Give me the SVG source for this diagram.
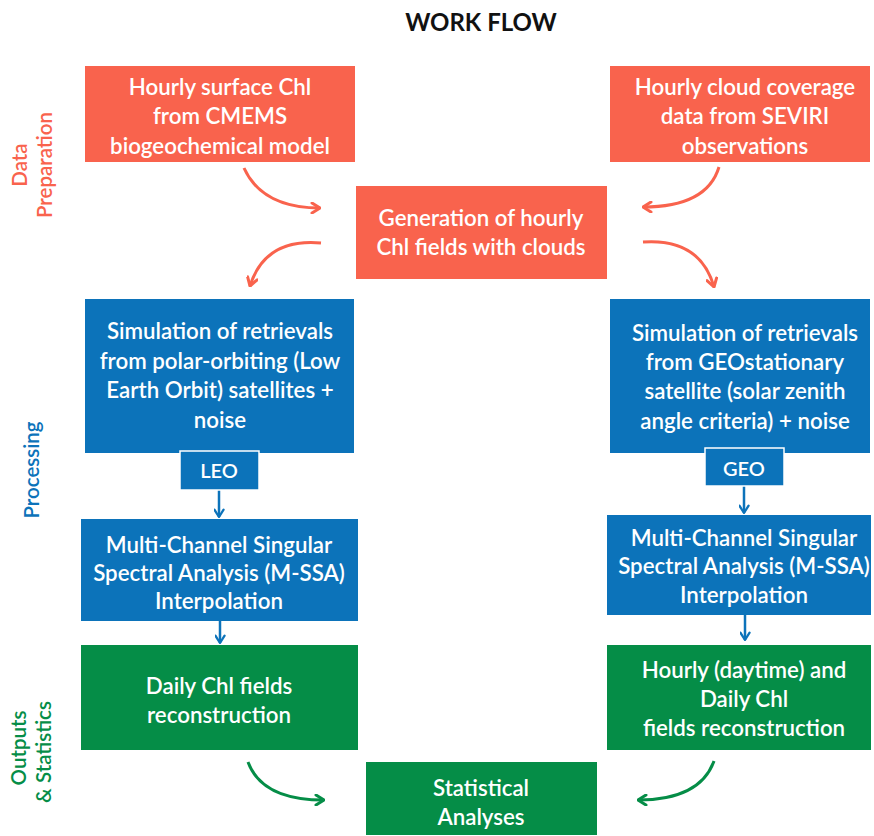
<svg xmlns="http://www.w3.org/2000/svg" width="874" height="836" viewBox="0 0 874 836">
<style>
text{font-family:Lato,"Open Sans","Liberation Sans",sans-serif;}
.t{fill:#fff;font-size:22.3px;font-weight:600;text-anchor:middle;}
.o{fill:#F9634D;}
.b{fill:#0C73BA;}
.g{fill:#058D47;}
.side{font-size:20.5px;font-weight:600;text-anchor:middle;}
.ao{fill:none;stroke:#F9634D;stroke-width:3;}
.ag{fill:none;stroke:#058D47;stroke-width:3;}
.ab{fill:none;stroke:#0C73BA;stroke-width:2.5;}
</style>
<defs>
<marker id="mo" viewBox="0 0 12 12" refX="11" refY="6" markerWidth="12" markerHeight="12" markerUnits="userSpaceOnUse" orient="auto"><path d="M3,1 L11,6 L3,11" fill="none" stroke="#F9634D" stroke-width="3" stroke-linecap="round" stroke-linejoin="round"/></marker>
<marker id="mg" viewBox="0 0 12 12" refX="11" refY="6" markerWidth="12" markerHeight="12" markerUnits="userSpaceOnUse" orient="auto"><path d="M3,1 L11,6 L3,11" fill="none" stroke="#058D47" stroke-width="3" stroke-linecap="round" stroke-linejoin="round"/></marker>
<marker id="mb" viewBox="0 0 12 12" refX="11" refY="6" markerWidth="11" markerHeight="11" markerUnits="userSpaceOnUse" orient="auto"><path d="M3,1 L11,6 L3,11" fill="none" stroke="#0C73BA" stroke-width="2.5" stroke-linecap="round" stroke-linejoin="round"/></marker>
</defs>
<rect width="874" height="836" fill="#fff"/>
<text x="481" y="31" font-size="24" font-weight="700" text-anchor="middle" fill="#111">WORK FLOW</text>

<g id="side-labels">
<text class="side o" transform="translate(27,165) rotate(-90)">Data</text>
<text class="side o" transform="translate(52,165) rotate(-90)">Preparation</text>
<text class="side b" transform="translate(39,470) rotate(-90)">Processing</text>
<text class="side g" transform="translate(26,748) rotate(-90)">Outputs</text>
<text class="side g" transform="translate(51,752) rotate(-90)">&amp; Statistics</text>
</g>

<g id="connectors">
<path class="ao" d="M244,168 Q262,208 320,208" marker-end="url(#mo)"/>
<path class="ao" d="M321,243 Q265,238 250,286" marker-end="url(#mo)"/>
<path class="ao" d="M719,167 Q707,207 643,207" marker-end="url(#mo)"/>
<path class="ao" d="M643,242 Q700,238 714,287" marker-end="url(#mo)"/>
<path class="ab" d="M219,489 L219,517" marker-end="url(#mb)"/>
<path class="ab" d="M744,486 L744,513" marker-end="url(#mb)"/>
<path class="ab" d="M220,621 L220,643" marker-end="url(#mb)"/>
<path class="ab" d="M745,615 L745,640" marker-end="url(#mb)"/>
<path class="ag" d="M248,762 Q262,800 324,800" marker-end="url(#mg)"/>
<path class="ag" d="M714,761 Q700,800 638,800" marker-end="url(#mg)"/>
</g>

<g id="chl-cmems">
<rect class="o" x="85" y="66" width="270" height="96"/>
<text class="t" x="220" y="95">Hourly surface Chl</text>
<text class="t" x="220" y="124">from CMEMS</text>
<text class="t" x="220" y="154">biogeochemical model</text>
</g>
<g id="cloud-seviri">
<rect class="o" x="610" y="66" width="260" height="96"/>
<text class="t" x="745" y="95">Hourly cloud coverage</text>
<text class="t" x="745" y="124">data from SEVIRI</text>
<text class="t" x="745" y="154">observations</text>
</g>
<g id="generation">
<rect class="o" x="356" y="186" width="251" height="93"/>
<text class="t" x="481" y="226">Generation of hourly</text>
<text class="t" x="481" y="255">Chl fields with clouds</text>
</g>
<g id="sim-leo">
<rect class="b" x="85" y="299" width="269" height="154"/>
<text class="t" x="220" y="339">Simulation of retrievals</text>
<text class="t" x="220" y="369">from polar-orbiting (Low</text>
<text class="t" x="220" y="398">Earth Orbit) satellites +</text>
<text class="t" x="220" y="428">noise</text>
</g>
<g id="sim-geo">
<rect class="b" x="610" y="299" width="260" height="154"/>
<text class="t" x="745" y="341">Simulation of retrievals</text>
<text class="t" x="745" y="370">from GEOstationary</text>
<text class="t" x="745" y="399">satellite (solar zenith</text>
<text class="t" x="745" y="429">angle criteria) + noise</text>
</g>
<g id="leo">
<rect class="b" x="180" y="451" width="79" height="39" stroke="#fff" stroke-width="1.5"/>
<text class="t" x="219" y="478" style="font-size:20px">LEO</text>
</g>
<g id="geo">
<rect class="b" x="705" y="448" width="79" height="38" stroke="#fff" stroke-width="1.5"/>
<text class="t" x="744" y="476" style="font-size:20px">GEO</text>
</g>
<g id="mssa-leo">
<rect class="b" x="81" y="519" width="277" height="102"/>
<text class="t" x="219" y="553">Multi-Channel Singular</text>
<text class="t" x="219" y="581">Spectral Analysis (M-SSA)</text>
<text class="t" x="219" y="609">Interpolation</text>
</g>
<g id="mssa-geo">
<rect class="b" x="607" y="515" width="264" height="100"/>
<text class="t" x="744" y="546">Multi-Channel Singular</text>
<text class="t" x="744" y="574">Spectral Analysis (M-SSA)</text>
<text class="t" x="744" y="603">Interpolation</text>
</g>
<g id="daily-chl">
<rect class="g" x="81" y="645" width="277" height="105"/>
<text class="t" x="219" y="694">Daily Chl fields</text>
<text class="t" x="219" y="723">reconstruction</text>
</g>
<g id="hourly-daily-chl">
<rect class="g" x="607" y="645" width="264" height="105"/>
<text class="t" x="744" y="678">Hourly (daytime) and</text>
<text class="t" x="744" y="707">Daily Chl</text>
<text class="t" x="744" y="736">fields reconstruction</text>
</g>
<g id="statistical">
<rect class="g" x="366" y="762" width="231" height="73"/>
<text class="t" x="481" y="796">Statistical</text>
<text class="t" x="481" y="825">Analyses</text>
</g>
</svg>
